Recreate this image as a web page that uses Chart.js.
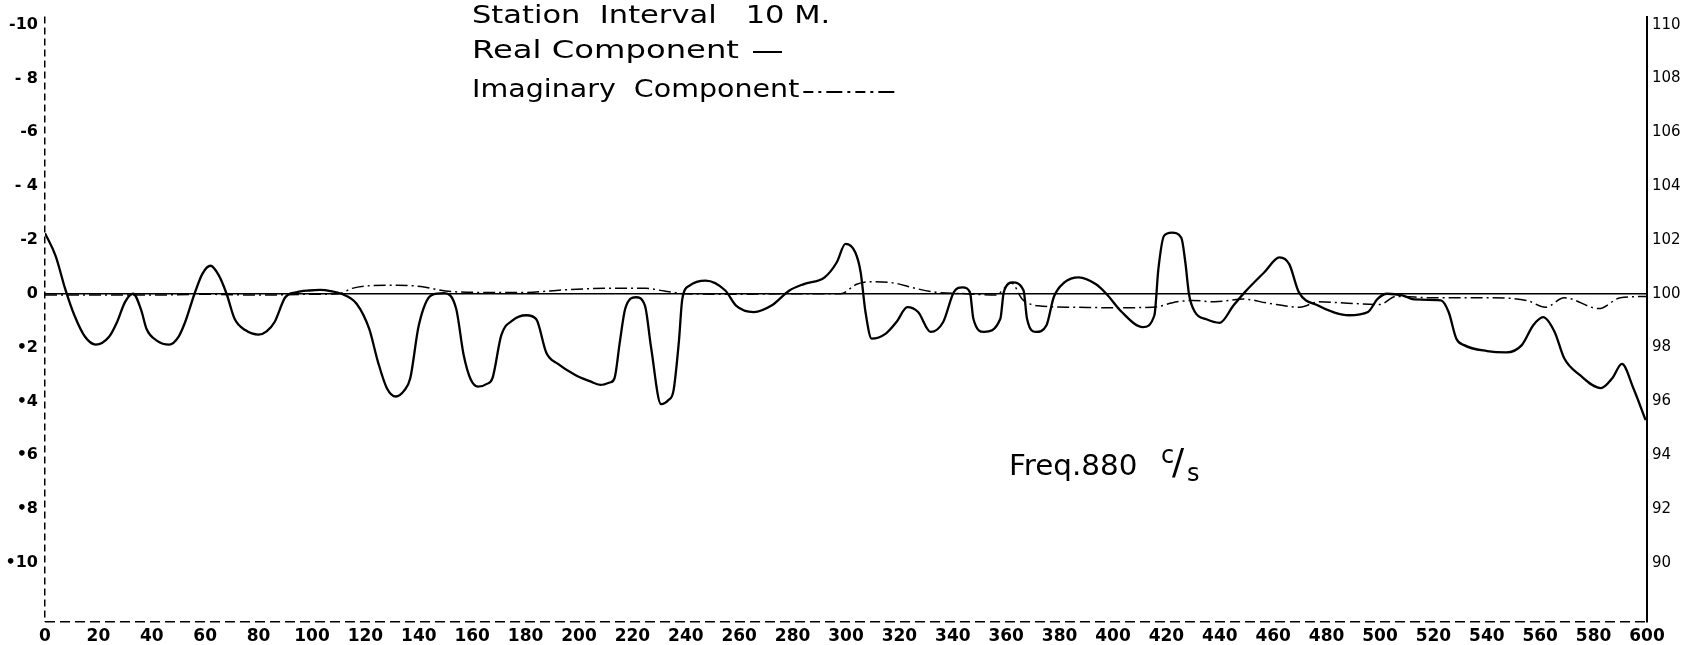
<!DOCTYPE html>
<html>
<head>
<meta charset="utf-8">
<script src="https://cdn.jsdelivr.net/npm/chart.js@4/dist/chart.umd.min.js"></script>
<style>
  html, body { margin: 0; padding: 0; background: #fff; }
  #wrap { width: 1683px; height: 645px; }
</style>
</head>
<body>
<div id="wrap"><canvas id="c" width="1683" height="645"></canvas></div>
<script>
// Station positions (M) and readings of the real component
const realStations = [0, 4, 7.5, 11, 15, 19, 24, 27, 30, 33, 36, 38, 42, 46.5, 50, 52.5, 56, 59, 62, 65,
  68, 71, 75, 80, 83, 86, 90, 94, 99, 103, 107, 111, 116.7, 121.4, 124.7, 128, 131.4, 134.5, 136.8, 140,
  144.8, 149.5, 154, 156.8, 159.5, 162.2, 165.5, 167.6, 170.9, 175, 180.3, 184, 187.8, 192, 198.6, 204, 208, 211.5, 213.3, 215.3,
  217.3, 221.3, 224.7, 227, 230.7, 233.5, 235.4, 237.4, 238.7, 241.4, 247.4, 254.8, 258.8, 265.5, 272.1, 278.8, 284.2, 292, 296.5, 299.8,
  303.5, 305.5, 307.3, 309.6, 314.9, 318.9, 323, 327, 331.7, 336.4, 340.4, 343.7, 346.4, 347.7, 351.7, 357.8, 359.1, 362.4,
  366.5, 367.8, 371.1, 375.1, 377.8, 381.8, 387.2, 393.5, 397.5, 403.3, 411.2, 415.5, 417, 419.1, 422, 425.6, 427.1, 428.5,
  430.7, 435, 440, 445.1, 449.4, 456.6, 462.4, 466, 469.6, 476.8, 483, 488.3, 495.5, 499.1, 502.7, 508.4, 512.8, 522.8,
  525.7, 528.6, 531.5, 540.1, 547.3, 553.1, 557.4, 561.1, 565.4, 569, 574.8, 582.7, 587, 590.6, 594.9, 599.5];
const realValues = [-2.25, -1.4, -0.2, 0.8, 1.6, 1.89, 1.6, 1.05, 0.3, 0.0, 0.6, 1.3, 1.75, 1.89, 1.6, 1.05, 0.0, -0.75, -1.04, -0.7,
  0.0, 0.93, 1.35, 1.52, 1.4, 1.05, 0.13, -0.05, -0.12, -0.14, -0.1, 0.0, 0.37, 1.3, 2.53, 3.5, 3.82, 3.6, 3.14, 1.17,
  0.05, -0.02, 0.56, 2.28, 3.2, 3.45, 3.35, 3.14, 1.54, 1.0, 0.8, 0.95, 2.2, 2.6, 3.02, 3.25, 3.39, 3.3, 3.14, 1.79,
  0.56, 0.13, 0.44, 2.0, 4.1, 3.95, 3.6, 1.79, 0.19, -0.3, -0.49, -0.12, 0.44, 0.68, 0.44, -0.12, -0.36, -0.61, -1.16, -1.85,
  -1.53, -0.79, 0.68, 1.67, 1.48, 1.05, 0.5, 0.68, 1.42, 1.05, -0.06, -0.24, -0.06, 0.93, 1.42, 0.93, -0.06, -0.42,
  -0.12, 0.93, 1.42, 1.17, 0.13, -0.42, -0.61, -0.36, 0.0, 0.68, 1.24, 0.8, -0.92, -2.15, -2.27, -2.08, -1.16, 0.04,
  0.68, 0.95, 1.08, 0.44, -0.06, -0.79, -1.35, -1.1, -0.06, 0.44, 0.7, 0.8, 0.68, 0.19, 0.0, 0.06, 0.21, 0.25,
  0.68, 1.67, 1.91, 2.13, 2.18, 1.91, 1.17, 0.87, 1.42, 2.4, 3.02, 3.51, 3.14, 2.61, 3.51, 4.7];

// Station positions (M) and readings of the imaginary component
const imagStations = [0, 20, 40, 60, 80, 100, 110, 115, 122, 132, 142, 150, 165, 180, 195, 210, 225, 232, 240, 260,
  280, 298, 304, 310, 318, 326, 334, 345, 356, 362, 366, 372, 385, 400, 415, 424, 430, 438, 449, 458,
  470, 477, 488, 500, 506, 520, 540, 555, 562, 569, 582, 590, 600];
const imagValues = [0.05, 0.05, 0.05, 0.02, 0.05, 0.02, 0.0, -0.2, -0.3, -0.32, -0.25, -0.1, -0.05, -0.05, -0.15, -0.2, -0.2, -0.1, 0.0, 0.02,
  0.0, 0.0, -0.35, -0.45, -0.4, -0.2, -0.05, 0.0, 0.05, -0.4, 0.2, 0.45, 0.5, 0.52, 0.5, 0.3, 0.25, 0.3, 0.2, 0.35,
  0.5, 0.3, 0.35, 0.4, 0.1, 0.15, 0.15, 0.25, 0.5, 0.15, 0.55, 0.15, 0.1];

// Axis tick values and labels
const stationTicks = [0, 20, 40, 60, 80, 100, 120, 140, 160, 180, 200, 220, 240, 260, 280, 300,
  320, 340, 360, 380, 400, 420, 440, 460, 480, 500, 520, 540, 560, 580, 600];
const leftTicks = [-10, -8, -6, -4, -2, 0, 2, 4, 6, 8, 10];
const leftTickLabels = ['-10', '- 8', '-6', '- 4', '-2', '0', '•2', '•4', '•6', '•8', '•10'];
const rightTicks = [110, 108, 106, 104, 102, 100, 98, 96, 94, 92, 90];
const rightTickLabels = ['110', '108', '106', '104', '102', '100', '98', '96', '94', '92', '90'];

const LEFT_MIN = -10.3, LEFT_MAX = 12.2;   // left scale runs downward
const RIGHT_REF = 100;                     // right scale = 100 minus left scale

const FONT = "'DejaVu Sans', 'Liberation Sans', sans-serif";
const DASH_DOT = [12, 4, 2, 4];
const CLEAR = 'rgba(0,0,0,0)';

const toPoints = (xs, ys) => xs.map((x, i) => ({ x: x, y: ys[i] }));

// text drawn with a horizontal stretch, like wide hand lettering
function wideText(ctx, text, x, y, sx) {
  ctx.save();
  ctx.translate(x, y);
  ctx.scale(sx, 1);
  ctx.fillText(text, 0, 0);
  ctx.restore();
  return ctx.measureText(text).width * sx;
}

// Heading, legend keys and frequency note
const annotations = {
  id: 'annotations',
  afterDraw(chart) {
    const ctx = chart.ctx;
    ctx.save();
    ctx.fillStyle = '#000';
    ctx.strokeStyle = '#000';
    ctx.textBaseline = 'middle';
    ctx.textAlign = 'left';
    ctx.font = '25px ' + FONT;
    const x0 = 472;
    wideText(ctx, 'Station  Interval   10 M.', x0, 16, 1.22);
    const wReal = wideText(ctx, 'Real Component', x0, 51, 1.29);
    const wImag = wideText(ctx, 'Imaginary  Component', x0, 90, 1.14);

    ctx.lineWidth = 2;
    ctx.setLineDash([]);
    ctx.beginPath();
    ctx.moveTo(x0 + wReal + 14, 52);
    ctx.lineTo(x0 + wReal + 43, 52);
    ctx.stroke();

    ctx.lineWidth = 1.8;
    ctx.setLineDash([10, 5, 3, 5, 16, 5, 3, 5]);
    ctx.beginPath();
    ctx.moveTo(x0 + wImag + 4, 92);
    ctx.lineTo(x0 + wImag + 96, 92);
    ctx.stroke();
    ctx.setLineDash([]);

    ctx.font = '28px ' + FONT;
    wideText(ctx, 'Freq.880', 1009, 468, 1.05);
    ctx.font = '24px ' + FONT;
    ctx.fillText('c', 1161, 457);
    ctx.font = '36px ' + FONT;
    ctx.fillText('/', 1172, 465);
    ctx.font = '24px ' + FONT;
    ctx.fillText('s', 1187, 475);
    ctx.restore();
  }
};

new Chart(document.getElementById('c'), {
  type: 'line',
  data: {
    datasets: [
      {
        label: 'Real Component',
        data: toPoints(realStations, realValues),
        borderColor: '#000',
        borderWidth: 2.3,
        pointRadius: 0,
        cubicInterpolationMode: 'monotone',
        yAxisID: 'y'
      },
      {
        label: 'Imaginary Component',
        data: toPoints(imagStations, imagValues),
        borderColor: '#000',
        borderWidth: 1.5,
        borderDash: DASH_DOT,
        pointRadius: 0,
        cubicInterpolationMode: 'monotone',
        yAxisID: 'y'
      }
    ]
  },
  options: {
    responsive: false,
    animation: false,
    layout: { padding: { top: 12, left: 0, right: 0, bottom: 0 } },
    plugins: { legend: { display: false }, tooltip: { enabled: false } },
    scales: {
      x: {
        type: 'linear',
        min: 0,
        max: 600,
        afterBuildTicks: s => { s.ticks = stationTicks.map(v => ({ value: v })); },
        afterFit: s => { s.height = 23; },
        ticks: { color: '#000', font: { family: FONT, size: 17, weight: 'bold' }, padding: 4, maxRotation: 0, autoSkip: false },
        // the broken left-hand axis line is the grid line at station 0
        grid: { drawTicks: false, lineWidth: 1.5, color: c => (c.tick && c.tick.value === 0) ? '#000' : CLEAR },
        border: { display: false, dash: [7, 4] }
      },
      y: {
        type: 'linear',
        position: 'left',
        reverse: true,
        min: LEFT_MIN,
        max: LEFT_MAX,
        afterBuildTicks: s => { s.ticks = leftTicks.concat([LEFT_MAX]).map(v => ({ value: v })); },
        afterFit: s => { s.width = 45; },
        ticks: {
          color: '#000',
          font: { family: FONT, size: 16, weight: 'bold' },
          padding: 7,
          autoSkip: false,
          callback: v => { const i = leftTicks.indexOf(v); return i < 0 ? '' : leftTickLabels[i]; }
        },
        // the broken base line is the grid line at the bottom of the scale
        grid: { drawTicks: false, lineWidth: 1.6, color: c => (c.tick && c.tick.value === LEFT_MAX) ? '#000' : CLEAR },
        border: { display: false, dash: [10, 5] }
      },
      y2: {
        type: 'linear',
        position: 'right',
        min: RIGHT_REF - LEFT_MAX,
        max: RIGHT_REF - LEFT_MIN,
        afterBuildTicks: s => { s.ticks = rightTicks.map(v => ({ value: v })); },
        afterFit: s => { s.width = 36; },
        ticks: {
          color: '#000',
          font: { family: FONT, size: 15 },
          padding: 5,
          autoSkip: false,
          callback: v => rightTickLabels[rightTicks.indexOf(v)]
        },
        // solid reference line through 100 (left-scale zero)
        grid: { drawTicks: false, lineWidth: 1.6, color: c => (c.tick && c.tick.value === RIGHT_REF) ? '#000' : CLEAR },
        border: { display: true, color: '#000', width: 2 }
      }
    }
  },
  plugins: [annotations]
});
</script>
</body>
</html>
